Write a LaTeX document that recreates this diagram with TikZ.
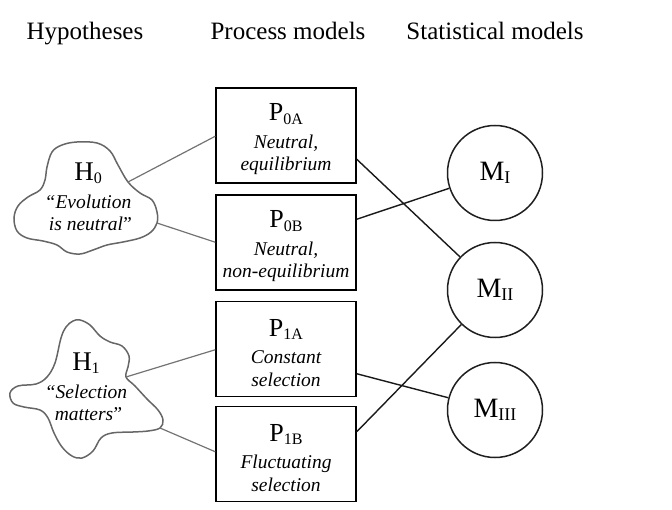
\documentclass[tikz,border=0pt]{standalone}
\usepackage{fontspec}
\setmainfont{Liberation Serif}
\usetikzlibrary{calc}
% lowered, smaller index used in the labels (P_0A, H_0, M_I ...)
\newcommand\lowsub[2][16]{\raisebox{-0.12em}{\fontsize{#1}{#1}\selectfont #2}}

\begin{document}
\begin{tikzpicture}[x=1pt,y=-1pt,
  header/.style={font=\fontsize{25}{28}\selectfont, anchor=base, inner sep=0pt},
  procbox/.style={draw=black, line width=1.5pt, minimum width=140pt, minimum height=95pt, inner sep=0pt},
  boxlabel/.style={align=center, inner sep=0pt, font=\fontsize{19.5}{22.5}\selectfont\itshape},
  statcirc/.style={draw=black!88, line width=1.5pt, circle, minimum size=95pt, inner sep=0pt,
    font=\fontsize{28}{30}\selectfont},
  cloudline/.style={draw=black!60, line width=1.5pt},
  hyptext/.style={align=center, inner sep=0pt, font=\fontsize{19.5}{22}\selectfont\itshape},
  greylink/.style={draw=black!55, line width=1.2pt},
  blacklink/.style={draw=black!90, line width=1.4pt}]
\useasboundingbox (0,0) rectangle (672,510);

% column headings
\node[header] (hhyp)  at (85,40)  {Hypotheses};
\node[header] (hproc) at (288,40) {Process models};
\node[header] (hstat) at (495,40) {Statistical models};

% process models: frames, then their labels
\node[procbox] (P0A) at (286,135.5) {};
\node[procbox] (P0B) at (286,242.5) {};
\node[procbox] (P1A) at (286,349)   {};
\node[procbox] (P1B) at (286,454)   {};
\node[boxlabel] (P0Al) at ($(P0A.center)+(0,4)$) {{\upshape\fontsize{26}{26}\selectfont P\lowsub{0A}}\\[5pt]Neutral,\\equilibrium};
\node[boxlabel] (P0Bl) at ($(P0B.center)+(0,4)$) {{\upshape\fontsize{26}{26}\selectfont P\lowsub{0B}}\\[5pt]Neutral,\\non-equilibrium};
\node[boxlabel] (P1Al) at ($(P1A.center)+(0,4)$) {{\upshape\fontsize{26}{26}\selectfont P\lowsub{1A}}\\[5pt]Constant\\selection};
\node[boxlabel] (P1Bl) at ($(P1B.center)+(0,4)$) {{\upshape\fontsize{26}{26}\selectfont P\lowsub{1B}}\\[5pt]Fluctuating\\selection};

% statistical models
\node[statcirc] (MI)   at (495,173) {M\lowsub[18]{I}};
\node[statcirc] (MII)  at (495,290) {M\lowsub[18]{II}};
\node[statcirc] (MIII) at (495,410) {M\lowsub[18]{III}};

% hypothesis clouds
\draw[cloudline] plot[smooth cycle, tension=0.6] coordinates {
  (47,167) (52,152) (62,145) (77,142) (97,143) (110,151) (118,165) (128,182)
  (140,193) (152,200) (157,212) (157,223) (151,232) (140,238) (123,242)
  (107,245) (93,250) (80,254) (67,252) (57,245) (43,241) (27,238) (17,231)
  (14,218) (18,206) (28,197) (40,190) (45,180)};
\coordinate (h0a) at (128,182);
\coordinate (h0b) at (157,223);

\draw[cloudline] plot[smooth cycle, tension=0.6] coordinates {
  (55,363) (61,338) (66,327) (73,321) (80,320) (90,325) (100,336) (110,342)
  (122,346) (129,356) (128,367) (126,377) (135,386) (147,399) (158,410)
  (163,420) (160,428) (148,431) (133,432) (112,433) (101,438) (93,451)
  (82,458) (72,456) (62,447) (54,433) (48,418) (40,410) (24,407) (13,403)
  (10,393) (18,386) (36,384) (47,377)};
\coordinate (h1a) at (126,377);
\coordinate (h1b) at (160,428);

\node[hyptext] (H0) at (88,197) {{\upshape\fontsize{27}{27}\selectfont H\lowsub{0}}\\[6pt]``Evolution\\ \ is neutral\kern-2pt''};
\node[hyptext] (H1) at (86,386.5) {{\upshape\fontsize{27}{27}\selectfont H\lowsub{1}}\\[6pt]``Selection\\ \ matters\kern-2pt''};

% hypotheses -> process models
\draw[greylink] (h0a) -- ($(P0A.north west)+(0,49)$);
\draw[greylink] (h0b) -- ($(P0B.north west)+(0,48)$);
\draw[greylink] (h1a) -- ($(P1A.north west)+(0,49)$);
\draw[greylink] (h1b) -- ($(P1B.north west)+(0,46)$);

% process models -> statistical models
\draw[blacklink] ($(P0A.north east)+(0,72)$) -- (MII);
\draw[blacklink] ($(P0B.north east)+(0,25)$) -- (MI);
\draw[blacklink] ($(P1A.north east)+(0,73)$) -- (MIII);
\draw[blacklink] ($(P1B.north east)+(0,26)$) -- (MII);
\end{tikzpicture}
\end{document}
